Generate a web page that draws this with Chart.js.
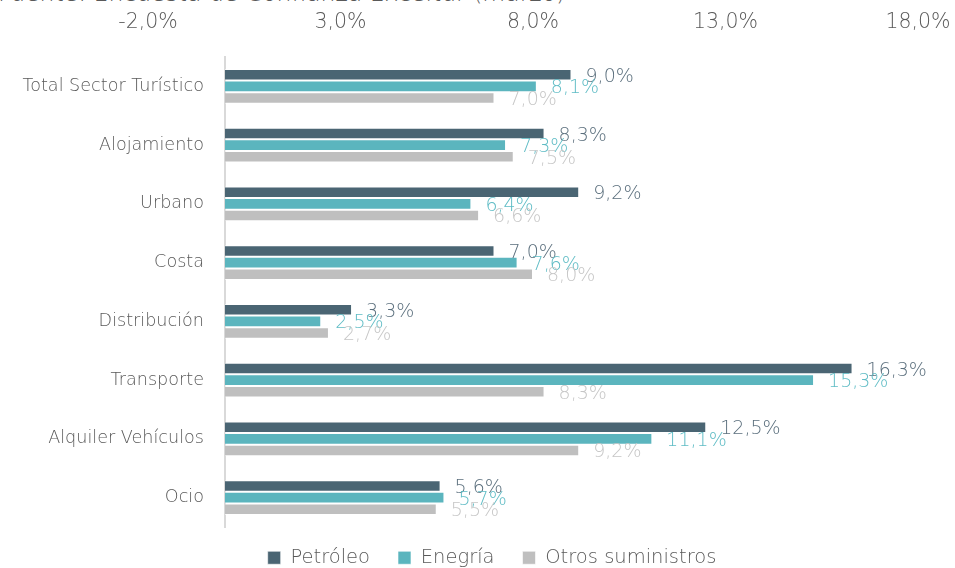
<!DOCTYPE html>
<html>
<head>
<meta charset="utf-8">
<script src="https://cdn.jsdelivr.net/npm/chart.js@4"></script>
<style>
    html, body { margin: 0; padding: 0; background: #fff; }
    #wrap { position: relative; width: 955px; height: 568px; overflow: hidden; }
    #source {
        position: absolute; left: -2px; top: -18px;
        font-family: "DejaVu Sans", sans-serif; font-weight: 200; font-size: 23.5px;
        line-height: 23.5px; color: #595959; white-space: nowrap;
    }
    canvas { position: absolute; left: 0; top: 0; }
</style>
</head>
<body>
<div id="wrap">
    <div id="source">Fuente: Encuesta de Confianza Exceltur (marzo)</div>
    <canvas id="chart" width="955" height="568"></canvas>
</div>
<script>
const categories = ['Total Sector Turístico', 'Alojamiento', 'Urbano', 'Costa',
    'Distribución', 'Transporte', 'Alquiler Vehículos', 'Ocio'];
const petroleo = [9.0, 8.3, 9.2, 7.0, 3.3, 16.3, 12.5, 5.6];
const energia = [8.1, 7.3, 6.4, 7.6, 2.5, 15.3, 11.1, 5.7];
const otros = [7.0, 7.5, 6.6, 8.0, 2.7, 8.3, 9.2, 5.5];
const xTicks = [-2, 3, 8, 13, 18];

const fontFamily = '"DejaVu Sans", sans-serif';
const textColor = '#595959';
const labelColors = ['#5b6f7d', '#5fbcc5', '#c6c6c6'];

function pct(v) {
    return v.toFixed(1).replace('.', ',') + '%';
}

// Value labels next to each bar end
const barLabels = {
    id: 'barLabels',
    afterDatasetsDraw(chart) {
        const c = chart.ctx;
        c.save();
        c.font = '200 19px ' + fontFamily;
        c.textAlign = 'left';
        c.textBaseline = 'middle';
        chart.data.datasets.forEach((ds, i) => {
            chart.getDatasetMeta(i).data.forEach((bar, j) => {
                c.fillStyle = labelColors[i];
                c.fillText(pct(ds.data[j]), bar.x + 14, bar.y + 2);
            });
        });
        c.restore();
    }
};

// Nudge the legend: closer to the plot and a little to the right
const legendShift = {
    id: 'legendShift',
    afterLayout(chart) {
        chart.legend.top -= 7;
        chart.legend.bottom -= 7;
        chart.legend.left += 33;
        chart.legend.right += 33;
    }
};

new Chart(document.getElementById('chart'), {
    type: 'bar',
    data: {
        labels: categories,
        datasets: [
            { label: 'Petróleo', data: petroleo, backgroundColor: '#4a6573' },
            { label: 'Enegría', data: energia, backgroundColor: '#5bb5be' },
            { label: 'Otros suministros', data: otros, backgroundColor: '#bfbfbf' }
        ]
    },
    options: {
        indexAxis: 'y',
        responsive: false,
        animation: false,
        layout: { padding: { top: 0, right: 37, bottom: -16.5, left: 0 } },
        datasets: {
            bar: {
                barPercentage: 1,
                categoryPercentage: 0.59,
                borderWidth: 1,
                borderColor: 'rgba(255,255,255,0.6)'
            }
        },
        scales: {
            x: {
                position: 'top',
                min: 0,
                max: 18,
                afterBuildTicks: scale => {
                    scale.ticks = xTicks.map(v => ({ value: v }));
                },
                afterFit: scale => { scale.height = 57; },
                grid: { display: false, drawTicks: true, tickLength: 18 },
                border: { display: false },
                ticks: {
                    autoSkip: false,
                    maxRotation: 0,
                    padding: 4,
                    color: textColor,
                    font: { family: fontFamily, size: 20.5, weight: 200 },
                    callback: v => pct(v)
                }
            },
            y: {
                afterFit: scale => { scale.width = 225; },
                grid: { display: false },
                border: { display: true, color: '#d9d9d9', width: 2 },
                ticks: {
                    padding: 13,
                    color: textColor,
                    font: { family: fontFamily, size: 17.6, weight: 200 }
                }
            }
        },
        plugins: {
            legend: {
                position: 'bottom',
                labels: {
                    color: textColor,
                    boxWidth: 13,
                    boxHeight: 13,
                    padding: 28,
                    font: { family: fontFamily, size: 19.5, weight: 200 }
                }
            },
            tooltip: { enabled: false }
        }
    },
    plugins: [barLabels, legendShift]
});
</script>
</body>
</html>
